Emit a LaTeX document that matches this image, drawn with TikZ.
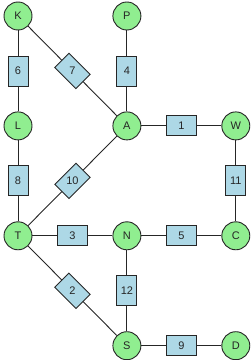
\documentclass[tikz,border=0pt]{standalone}
\usepackage{fontspec}
\setmainfont{Liberation Sans}
\usepackage{tikz}
\usetikzlibrary{positioning}
\definecolor{vertexgreen}{HTML}{90EE90}
\definecolor{edgeblue}{HTML}{ADD8E6}
\definecolor{inkgray}{HTML}{262626}

\begin{document}
\begin{tikzpicture}[
  x=1pt,y=1pt,
  node distance=81pt and 80pt,
  every node/.style={font=\fontsize{11}{13}\selectfont,text=inkgray},
  vertex/.style={circle,draw=inkgray,fill=vertexgreen,line width=0.9pt,
    minimum size=28pt,inner sep=0pt},
  hlbl/.style={rectangle,draw=inkgray,fill=edgeblue,line width=0.9pt,
    minimum width=30pt,minimum height=20pt,inner sep=0pt},
  vlbl/.style={hlbl,minimum width=20pt,minimum height=30pt},
  link/.style={draw=inkgray,line width=0.9pt}
]
  \useasboundingbox (0,0) rectangle (250,360);

  \node[vertex] (K) at (18,344) {K};
  \node[vertex,below=of K] (L) {L};
  \node[vertex,below=of L] (T) {T};
  \node[vertex,right=of L] (A) {A};
  \node[vertex,above=of A] (P) {P};
  \node[vertex,right=of A] (W) {W};
  \node[vertex,right=of T] (N) {N};
  \node[vertex,right=of N] (C) {C};
  \node[vertex,below=of N] (S) {S};
  \node[vertex,right=of S] (D) {D};

  \draw[link] (A) -- node[hlbl] (e1) {1} (W);
  \draw[link] (T) -- node[hlbl,rotate=-45] (e2) {\rotatebox{45}{2}} (S);
  \draw[link] (T) -- node[hlbl] (e3) {3} (N);
  \draw[link] (P) -- node[vlbl] (e4) {4} (A);
  \draw[link] (N) -- node[hlbl] (e5) {5} (C);
  \draw[link] (K) -- node[vlbl] (e6) {6} (L);
  \draw[link] (K) -- node[hlbl,rotate=-45] (e7) {\rotatebox{45}{7}} (A);
  \draw[link] (L) -- node[vlbl] (e8) {8} (T);
  \draw[link] (S) -- node[hlbl] (e9) {9} (D);
  \draw[link] (T) -- node[hlbl,rotate=45] (e10) {\rotatebox{-45}{10}} (A);
  \draw[link] (W) -- node[vlbl] (e11) {11} (C);
  \draw[link] (N) -- node[vlbl] (e12) {12} (S);
\end{tikzpicture}
\end{document}
